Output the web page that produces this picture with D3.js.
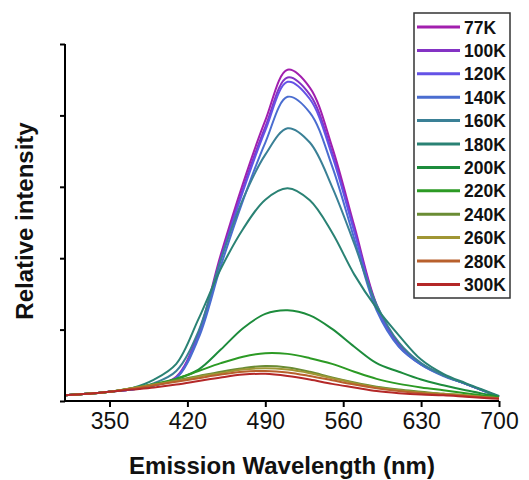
<!DOCTYPE html>
<html>
<head>
<meta charset="utf-8">
<script src="https://cdn.jsdelivr.net/npm/d3@7"></script>
<style>
  body { margin: 0; background: #fff; }
  text { font-family: Arial, "Liberation Sans", sans-serif; }
</style>
</head>
<body>
<script>
// wavelengths (nm) where the spectra were read
var wavelength = [310,330,350,370,390,410,430,450,470,490,510,530,550,570,590,610,630,650,670,690,700];

// relative intensity, one array per temperature
var s77K  = [0.08,0.10,0.13,0.16,0.22,0.34,0.95,2.05,3.05,3.93,4.64,4.39,3.56,2.45,1.35,0.79,0.52,0.36,0.24,0.12,0.06];
var s100K = [0.08,0.10,0.13,0.16,0.22,0.33,0.92,2.00,2.98,3.84,4.53,4.29,3.48,2.40,1.33,0.78,0.52,0.36,0.24,0.12,0.06];
var s120K = [0.08,0.10,0.13,0.16,0.22,0.33,0.91,1.98,2.94,3.79,4.47,4.23,3.44,2.37,1.31,0.77,0.51,0.36,0.24,0.12,0.06];
var s140K = [0.08,0.10,0.13,0.16,0.22,0.32,0.88,1.89,2.81,3.62,4.26,4.04,3.29,2.27,1.27,0.76,0.51,0.35,0.24,0.12,0.06];
var s160K = [0.08,0.10,0.13,0.17,0.25,0.42,0.98,1.98,2.83,3.45,3.82,3.62,3.00,2.20,1.35,0.82,0.53,0.36,0.24,0.12,0.06];
var s180K = [0.08,0.10,0.13,0.18,0.30,0.52,1.15,1.85,2.41,2.82,2.98,2.81,2.36,1.77,1.30,0.92,0.58,0.38,0.25,0.13,0.07];
var s200K = [0.08,0.10,0.13,0.17,0.22,0.31,0.44,0.72,1.02,1.22,1.27,1.20,1.01,0.76,0.53,0.41,0.30,0.22,0.15,0.09,0.06];
var s220K = [0.08,0.10,0.13,0.18,0.24,0.31,0.42,0.53,0.62,0.67,0.66,0.60,0.52,0.41,0.31,0.24,0.19,0.15,0.11,0.07,0.05];
var s240K = [0.08,0.10,0.13,0.18,0.23,0.29,0.35,0.41,0.46,0.49,0.47,0.41,0.33,0.26,0.20,0.16,0.13,0.10,0.08,0.05,0.04];
var s260K = [0.08,0.10,0.13,0.18,0.23,0.28,0.34,0.39,0.44,0.46,0.44,0.39,0.32,0.25,0.19,0.15,0.12,0.10,0.08,0.05,0.04];
var s280K = [0.08,0.10,0.13,0.17,0.22,0.27,0.32,0.37,0.41,0.42,0.40,0.35,0.29,0.23,0.18,0.14,0.11,0.09,0.07,0.05,0.04];
var s300K = [0.08,0.10,0.13,0.16,0.19,0.23,0.28,0.33,0.37,0.38,0.35,0.30,0.24,0.19,0.14,0.11,0.09,0.08,0.06,0.04,0.03];

var temps = ["77K","100K","120K","140K","160K","180K","200K","220K","240K","260K","280K","300K"];
var xTicks = [350,420,490,560,630,700];

var allSeries = [s77K,s100K,s120K,s140K,s160K,s180K,s200K,s220K,s240K,s260K,s280K,s300K];
var colors = ["#a21fae","#8433c4","#6452e6","#4a6dd0","#3a8096","#2a8274",
              "#1d8c3c","#2c9a24","#6a8c34","#a09634","#b8602c","#b42828"];

var svg = d3.select("body").append("svg")
    .attr("width", 529)
    .attr("height", 480);

var x = d3.scaleLinear().domain([310, 700]).range([65, 499]);
var y = d3.scaleLinear().domain([0, 5]).range([401, 44]);

// curves, 77K first so the warm ones sit on top near the baseline
var line = d3.line()
    .x(function(d){ return x(d[0]); })
    .y(function(d){ return y(d[1]); })
    .curve(d3.curveCatmullRom.alpha(0.5));

svg.append("g").selectAll("path")
    .data(allSeries)
    .enter()
    .append("path")
    .attr("d", function(s){ return line(wavelength.map(function(w, i){ return [w, s[i]]; })); })
    .attr("fill", "none")
    .attr("stroke", function(d, i){ return colors[i]; })
    .attr("stroke-width", 2);

// x axis
var xAxis = svg.append("g").attr("transform", "translate(0,401)");
xAxis.call(d3.axisBottom(x).tickValues([315,385,455,525,595,665]).tickSize(3).tickFormat(""));
xAxis.call(d3.axisBottom(x).tickValues(xTicks).tickSize(6).tickPadding(6).tickFormat(d3.format("d")));
xAxis.selectAll("path, line").attr("stroke", "#000").attr("stroke-width", 2);
xAxis.select(".domain").attr("d", "M65,0H499");
xAxis.selectAll("text").attr("font-size", 23).attr("fill", "#111");

// y axis, no labels
var yAxis = svg.append("g").attr("transform", "translate(65,0)");
yAxis.call(d3.axisLeft(y).tickValues([0.5,1.5,2.5,3.5,4.5]).tickSize(3).tickFormat(""));
yAxis.call(d3.axisLeft(y).tickValues([0,1,2,3,4,5]).tickSize(5).tickFormat(""));
yAxis.selectAll("path, line").attr("stroke", "#000").attr("stroke-width", 2);
yAxis.select(".domain").attr("d", "M0,401V44");

svg.append("text")
    .attr("x", 282).attr("y", 474)
    .attr("text-anchor", "middle")
    .attr("font-size", 24).attr("font-weight", "bold")
    .attr("fill", "#111")
    .text("Emission Wavelength (nm)");

svg.append("text")
    .attr("transform", "translate(33,221) rotate(-90)")
    .attr("text-anchor", "middle")
    .attr("font-size", 24).attr("font-weight", "bold")
    .attr("fill", "#111")
    .text("Relative intensity");

// legend
var legend = svg.append("g");
legend.append("rect")
    .attr("x", 414).attr("y", 13)
    .attr("width", 96).attr("height", 285)
    .attr("fill", "#fff")
    .attr("stroke", "#333").attr("stroke-width", 1.5);

var item = legend.selectAll("g.item")
    .data(temps)
    .enter()
    .append("g")
    .attr("class", "item")
    .attr("transform", function(d, i){ return "translate(0," + (27 + i * 23.4) + ")"; });
item.append("line")
    .attr("x1", 417).attr("x2", 460)
    .attr("stroke", function(d, i){ return colors[i]; })
    .attr("stroke-width", 3);
item.append("text")
    .attr("x", 464).attr("y", 6.5)
    .attr("font-size", 17.5).attr("font-weight", "bold")
    .attr("fill", "#111")
    .text(function(d){ return d; });
</script>
</body>
</html>
